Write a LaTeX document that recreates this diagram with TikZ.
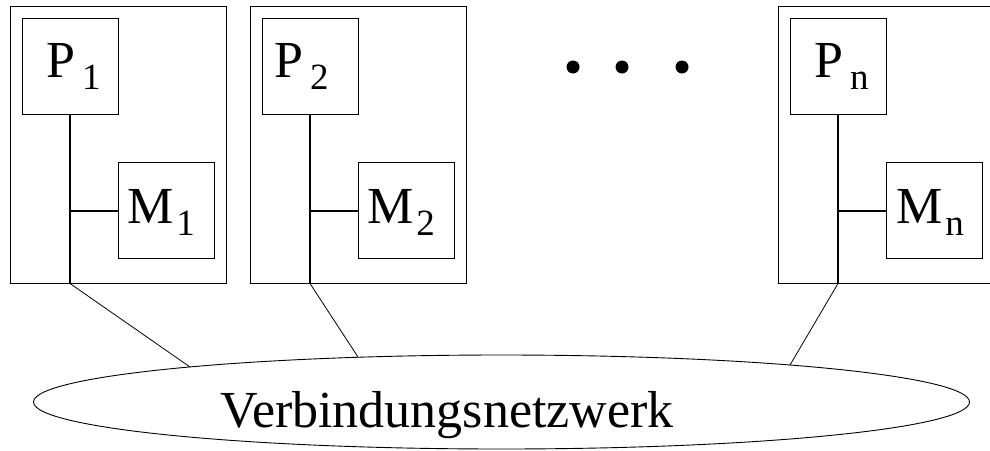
\documentclass[tikz,border=0pt]{standalone}
\usepackage{fontspec}
\setmainfont{Liberation Serif}
\usetikzlibrary{shapes.geometric,calc}
\newcommand{\idx}[1]{\raisebox{-12pt}{\fontsize{37}{37}\selectfont #1}}
\begin{document}
\begin{tikzpicture}[x=1pt,y=-1pt,
  frame/.style={draw, line width=1pt, inner sep=0pt, minimum width=216pt, minimum height=277pt},
  unit/.style={draw, line width=1pt, inner sep=0pt, minimum width=96pt, minimum height=96pt},
  bus/.style={line width=2pt},
  link/.style={line width=0.8pt},
  lbl/.style={anchor=base west, inner sep=0pt, font=\fontsize{52}{52}\selectfont},
  dotmark/.style={circle, fill, inner sep=0pt, minimum size=13pt}]
\useasboundingbox (0,0) rectangle (990,450);
\clip (0,0) rectangle (990,450);

% frames
\node[frame] (F1) at (118,144.5) {};
\node[frame] (F2) at (358,144.5) {};
\node[frame] (Fn) at (886,144.5) {};

% processors and memories
\node[unit] (P1) at (70,66.5) {};
\node[unit] (M1) at (166,210.5) {};
\node[unit] (P2) at (310,66.5) {};
\node[unit] (M2) at (406,210.5) {};
\node[unit] (Pn) at (838,66.5) {};
\node[unit] (Mn) at (934,210.5) {};

% labels
\node[lbl] (lP1) at (46,77.5) {P\hspace{7pt}\idx{1}};
\node[lbl] (lP2) at (274,77.5) {P\hspace{7pt}\idx{2}};
\node[lbl] (lPn) at (814,77.5) {P\hspace{7pt}\idx{n}};
\node[lbl] (lM1) at (127,223) {M\hspace{3pt}\idx{1}};
\node[lbl] (lM2) at (367,223) {M\hspace{3pt}\idx{2}};
\node[lbl] (lMn) at (896,223) {M\hspace{3pt}\idx{n}};

% dots
\node[dotmark] (d1) at (573,67) {};
\node[dotmark] (d2) at (622,67) {};
\node[dotmark] (d3) at (682,67) {};

% network
\node[draw, ellipse, line width=0.9pt, inner sep=0pt, minimum width=936pt, minimum height=94pt] (net) at (501.5,402) {};
\node[anchor=base west, inner sep=0pt, font=\fontsize{52}{52}\selectfont] (nettext) at (220,427) {Verbindungsnetzwerk};

% buses
\coordinate (b1) at (P1.south |- F1.south);
\coordinate (b2) at (P2.south |- F2.south);
\coordinate (bn) at (Pn.south |- Fn.south);
\draw[bus] (P1.south) -- (b1);
\draw[bus] (P2.south) -- (b2);
\draw[bus] (Pn.south) -- (bn);
\draw[bus] (M1.west -| P1.south) -- (M1.west);
\draw[bus] (M2.west -| P2.south) -- (M2.west);
\draw[bus] (Mn.west -| Pn.south) -- (Mn.west);

% links to network
\coordinate (e1) at ($(net.center)+(-311.5,-35)$);
\coordinate (e2) at ($(net.center)+(-143.5,-45)$);
\coordinate (en) at ($(net.center)+(288.5,-37)$);
\draw[link] (b1) -- (e1);
\draw[link] (b2) -- (e2);
\draw[link] (bn) -- (en);
\end{tikzpicture}
\end{document}
